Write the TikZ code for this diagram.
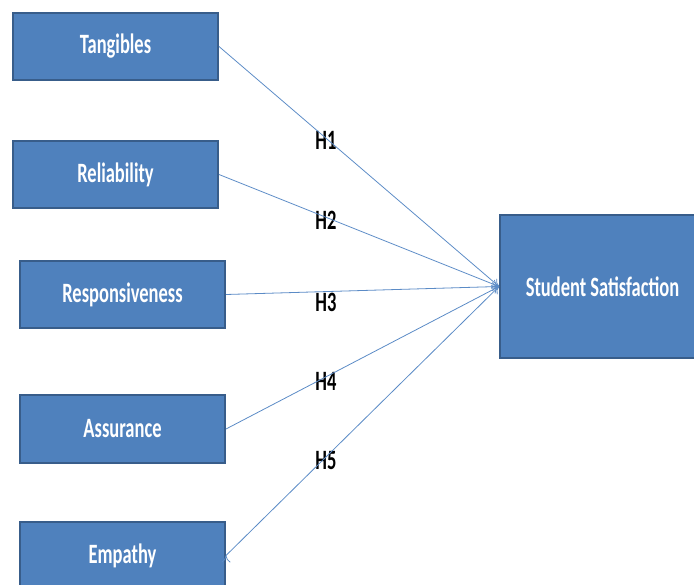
\documentclass[tikz,border=0pt]{standalone}
\usepackage{fontspec}
\usepackage{tikz}
\usetikzlibrary{positioning, arrows.meta}
\usepackage{xcolor}

\newfontfamily\calib[FakeStretch=0.66]{Carlito}
\definecolor{boxblue}{HTML}{4F81BD}
\definecolor{boxedge}{HTML}{385D8A}
\definecolor{linkblue}{HTML}{5B8BC6}

\tikzset{
  factor/.style={rectangle, draw=boxedge, line width=2pt, fill=boxblue,
    text=white, minimum width=205pt, minimum height=67pt,
    font=\calib\bfseries\fontsize{28}{30}\selectfont},
  hyp/.style={font=\calib\bfseries\fontsize{28}{30}\selectfont, text=black, inner sep=0pt},
  link/.style={draw=linkblue, line width=0.8pt, -{To[length=7pt,width=9pt]}}
}

\begin{document}
\begin{tikzpicture}[x=1pt, y=-1pt]
    \useasboundingbox (0,0) rectangle (694,585);

    \node[factor] (tang) at (115.5,46.5) {Tangibles};
    \node[factor] (reli) at (115.5,174.5) {Reliability};
    \node[factor] (resp) at (122.5,294.5) {Responsiveness};
    \node[factor] (assu) at (122.5,429) {Assurance};
    \node[factor] (empa) at (122.5,555.5) {Empathy};
    \node[factor, minimum width=205pt, minimum height=143pt] (sat) at (602.5,286.5) {Student Satisfaction};

    \node[hyp] (h1) at (326,140) {H1};
    \node[hyp] (h2) at (326,220) {H2};
    \node[hyp] (h3) at (326,302) {H3};
    \node[hyp] (h4) at (326,381) {H4};
    \node[hyp] (h5) at (326,461) {H5};

    \path[link]
    (tang.east) edge (sat.west)
    (reli.east) edge (sat.west)
    (resp.east) edge (sat.west)
    (assu.east) edge (sat.west)
    (empa.east) edge (sat.west);
\end{tikzpicture}
\end{document}
